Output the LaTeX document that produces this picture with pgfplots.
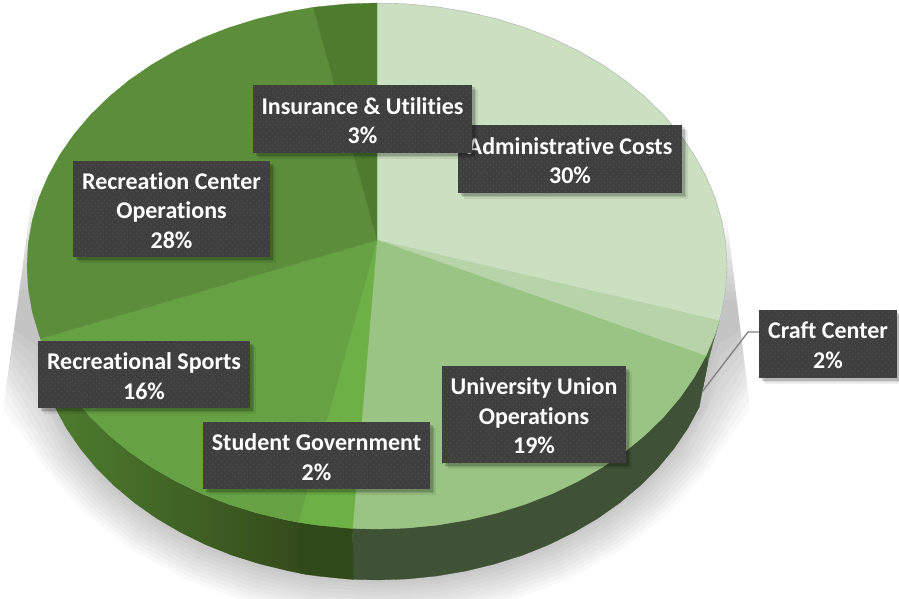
\documentclass[border=0pt]{standalone}
\usepackage{fontspec}
\setmainfont{Carlito}[RawFeature={-liga;-dlig;-clig}]
\usepackage{pgfplots}
\pgfplotsset{compat=1.18}
\usetikzlibrary{patterns.meta}

\definecolor{admin}{HTML}{CBDFC1}
\definecolor{craft}{HTML}{B7D4A8}
\definecolor{univ}{HTML}{9AC484}
\definecolor{stud}{HTML}{6DB045}
\definecolor{sports}{HTML}{66A144}
\definecolor{reccen}{HTML}{5C8D3A}
\definecolor{insur}{HTML}{4E7C2E}
\definecolor{wallcraft}{HTML}{4C6A3C}
\definecolor{walluniv}{HTML}{3F5235}
\definecolor{wallstud}{HTML}{2F4A18}
\definecolor{wallsportsl}{HTML}{4F7F2F}
\definecolor{wallsportsr}{HTML}{33491B}
\definecolor{boxc}{HTML}{3F3F40}
\definecolor{dotc}{HTML}{5A5A5B}

% label box: x0 y0 x1 y1 text
\newcommand{\lab}[5]{%
  \fill[black,opacity=.07,xshift=5.5pt,yshift=-5.5pt] (axis cs:#1,#2) rectangle (axis cs:#3,#4);
  \fill[black,opacity=.1,xshift=4pt,yshift=-4pt] (axis cs:#1,#2) rectangle (axis cs:#3,#4);
  \fill[black,opacity=.15,xshift=2.5pt,yshift=-2.5pt] (axis cs:#1,#2) rectangle (axis cs:#3,#4);
  \fill[boxc] (axis cs:#1,#2) rectangle (axis cs:#3,#4);
  \fill[pattern={Dots[radius=.55pt,distance=4pt,angle=45]},pattern color=dotc] (axis cs:#1,#2) rectangle (axis cs:#3,#4);
  \path (axis cs:#1,#2) -- (axis cs:#3,#4) node[midway,yshift=-1.5pt,text=white,align=center,inner sep=0pt,
    font=\fontsize{24}{29.5}\selectfont\bfseries] {#5};
}

\begin{document}
\begin{tikzpicture}
\begin{axis}[
    at={(0,0)}, anchor=south west,
    scale only axis,
    width=899pt, height=599pt,
    xmin=0, xmax=899, ymin=0, ymax=599,
    y dir=reverse,
    hide axis,
  ]

% soft shadow behind the pie
\pgfplotsset{shad/.style={draw=none,fill=black,fill opacity=.022}}
\addplot[shad] coordinates {(33,190)(3,410)(30,445)(45.3,468.5)(83.6,511.8)(130.8,549.1)(185.5,579.4)(246,601.7)(310.5,615.4)(377,620)(443.5,615.4)(508,601.7)(568.5,579.4)(623.2,549.1)(670.4,511.8)(708.7,468.5)(724,445)(750,410)(727,220)} -- cycle;
\addplot[shad] coordinates {(31.6,200)(4.4,400)(33.5,443)(48.8,466.5)(86.7,509.2)(133.4,546)(187.5,576)(247.4,598)(311.2,611.5)(377,616)(442.8,611.5)(506.6,598)(566.5,576)(620.6,546)(667.3,509.2)(705.2,466.5)(720.5,443)(749.6,400)(728,228)} -- cycle;
\addplot[shad] coordinates {(30.3,210)(5.8,390)(37.1,441.7)(52.2,464.5)(89.7,506.6)(135.9,543)(189.5,572.5)(248.7,594.2)(311.9,607.5)(377,612)(442.1,607.5)(505.3,594.2)(564.5,572.5)(618.1,543)(664.3,506.6)(701.8,464.5)(716.9,441.7)(747.6,390)(729,236)} -- cycle;
\addplot[shad] coordinates {(28.9,220)(6.8,382)(34.6,428)(55.7,462.5)(92.8,504)(138.5,540)(191.5,569)(250.1,590.5)(312.6,603.5)(377,608)(441.4,603.5)(503.9,590.5)(562.5,569)(615.5,540)(661.2,504)(698.3,462.5)(719.4,428)(747.2,382)(729.8,244)} -- cycle;
\addplot[shad] coordinates {(27.6,230)(7.8,375)(32.1,415.2)(59.2,460.5)(95.9,501.5)(141.1,536.8)(193.5,565.5)(251.5,586.7)(313.3,599.6)(377,604)(440.7,599.6)(502.5,586.7)(560.5,565.5)(612.9,536.8)(658.1,501.5)(694.8,460.5)(721.9,415.2)(745.8,375)(730.8,252)} -- cycle;
\addplot[shad] coordinates {(26.2,240)(8.9,367)(31.2,402)(62.6,458.5)(99,499)(143.7,533.8)(195.5,562)(252.9,583)(314,595.7)(377,600)(440,595.7)(501.1,583)(558.5,562)(610.3,533.8)(655,499)(691.4,458.5)(722.8,402)(745.1,367)(731.8,260)} -- cycle;
\addplot[shad] coordinates {(24.8,250)(9.9,360)(30.2,389.2)(66.1,456.5)(102,496.3)(146.2,530.7)(197.5,558.6)(254.2,579.2)(314.7,591.8)(377,596)(439.3,591.8)(499.8,579.2)(556.5,558.6)(607.8,530.7)(652,496.3)(687.9,456.5)(723.8,389.2)(743.9,360)(732.8,268)} -- cycle;
\addplot[shad] coordinates {(23.5,260)(10.9,352)(30.8,376.6)(69.5,454.5)(105,493.8)(148.8,527.6)(199.5,555.2)(255.6,575.5)(315.4,587.9)(377,592)(438.6,587.9)(498.4,575.5)(554.5,555.2)(605.2,527.6)(649,493.8)(684.5,454.5)(723.2,376.6)(743.1,352)(733.7,276)} -- cycle;
\addplot[shad] coordinates {(22.1,270)(11.9,345)(31.3,364.1)(47.2,409.7)(73,452.5)(108.1,491.2)(151.4,524.6)(201.5,551.7)(257,571.7)(316.1,583.9)(377,588)(437.9,583.9)(497,571.7)(552.5,551.7)(602.6,524.6)(645.9,491.2)(681,452.5)(706.8,409.7)(722.7,364.1)(742.1,345)(734.7,284)} -- cycle;
\addplot[shad] coordinates {(20.8,280)(13,337)(33.6,354.5)(50,409)(76,450)(110,488)(154,521)(203,548)(258,568)(316.5,580)(377,584)(437.5,580)(496,568)(551,548)(600,521)(644,488)(678,450)(704,409)(720.4,354.5)(741,337)(735.7,292)} -- cycle;
\addplot[shad] coordinates {(19.4,290)(14,330)(36,345)(60,420)(377,500)(694,420)(718,345)(740.3,330)(736.7,300)} -- cycle;

% side walls
\addplot[draw=wallcraft,fill=wallcraft,line width=.3pt] coordinates {(719.3,320.7)(715.1,334.1)(705.9,355.9)(702,392)(708,362)(713,343)} -- cycle;
\addplot[draw=walluniv,fill=walluniv,line width=.3pt] coordinates {(705.9,355.9)(694.2,377.1)(680.1,397.5)(663.7,416.9)(645.1,435.1)(624.5,452)(602,467.5)(577.8,481.4)(552,493.8)(524.9,504.4)(496.7,513.1)(467.6,520)(437.8,525)(407.5,528)(377,529)(352.6,528.4)
  (353.1,579.4)(377,580)(406.9,579)(436.5,576)(465.8,571)(494.3,564.1)(522,555.4)(548.5,544.8)(573.7,532.4)(597.5,518.5)(619.5,503)(639.7,486.1)(658,467.9)(674,448.5)(687.9,428.1)(699.3,406.9)(702,392)(708,362)} -- cycle;
\addplot[draw=none,left color=wallsportsl,right color=wallsportsr] coordinates {(310,524.5)(298.3,522.3)(286.4,520)(257.3,513.1)(229.1,504.4)(202,493.8)(176.2,481.4)(152,467.5)(129.5,452)(108.9,435.1)(90.3,416.9)(73.9,397.5)(59.8,377.1)(48.1,355.9)(40.5,338.5)
  (46,375)(54.7,406.9)(66.1,428.1)(80,448.5)(96,467.9)(114.3,486.1)(134.5,503)(156.5,518.5)(180.3,532.4)(205.5,544.8)(232,555.4)(259.7,564.1)(288.2,571)(299.8,573.3)(311,575.3)} -- cycle;
\addplot[draw=wallstud,fill=wallstud,line width=.3pt] coordinates {(352.6,528.4)(346.5,528)(316.2,525)(298.3,522.3)(299.8,573.3)(317.5,576)(347.1,579)(353.1,579.4)} -- cycle;

% top face
\addplot[draw=admin,fill=admin,line width=.3pt] coordinates {(377,240)(377,3)(407.5,4)(437.8,7)(467.6,12)(496.7,18.9)(524.9,27.6)(552,38.2)(577.8,50.6)(602,64.5)(624.5,80)(645.1,96.9)(663.7,115.1)(680.1,134.5)(694.2,154.9)(705.9,176.1)(715.1,197.9)(721.7,220.3)(725.7,243.1)(727,266)(725.7,288.9)(721.7,311.7)(719.3,320.7)} -- cycle;
\addplot[draw=craft,fill=craft,line width=.3pt] coordinates {(377,240)(719.3,320.7)(715.1,334.1)(705.9,355.9)} -- cycle;
\addplot[draw=univ,fill=univ,line width=.3pt] coordinates {(377,240)(705.9,355.9)(694.2,377.1)(680.1,397.5)(663.7,416.9)(645.1,435.1)(624.5,452)(602,467.5)(577.8,481.4)(552,493.8)(524.9,504.4)(496.7,513.1)(467.6,520)(437.8,525)(407.5,528)(377,529)(352.6,528.4)} -- cycle;
\addplot[draw=stud,fill=stud,line width=.3pt] coordinates {(377,240)(352.6,528.4)(346.5,528)(316.2,525)(298.3,522.3)} -- cycle;
\addplot[draw=sports,fill=sports,line width=.3pt] coordinates {(377,240)(298.3,522.3)(286.4,520)(257.3,513.1)(229.1,504.4)(202,493.8)(176.2,481.4)(152,467.5)(129.5,452)(108.9,435.1)(90.3,416.9)(73.9,397.5)(59.8,377.1)(48.1,355.9)(40.5,338.5)} -- cycle;
\addplot[draw=reccen,fill=reccen,line width=.3pt] coordinates {(377,240)(40.5,338.5)(38.9,334.1)(32.3,311.7)(28.3,288.9)(27,266)(28.3,243.1)(32.3,220.3)(38.9,197.9)(48.1,176.1)(59.8,154.9)(73.9,134.5)(90.3,115.1)(108.9,96.9)(129.5,80)(152,64.5)(176.2,50.6)(202,38.2)(229.1,27.6)(257.3,18.9)(286.4,12)(313.2,7.4)} -- cycle;
\addplot[draw=insur,fill=insur,line width=.3pt] coordinates {(377,240)(313.2,7.4)(316.2,7)(346.5,4)(377,3)} -- cycle;

% thin grey rim along the light slices
\addplot[draw=black!30,line width=.4pt] coordinates {(377,3)(407.5,4)(437.8,7)(467.6,12)(496.7,18.9)(524.9,27.6)(552,38.2)(577.8,50.6)(602,64.5)(624.5,80)(645.1,96.9)(663.7,115.1)(680.1,134.5)(694.2,154.9)(705.9,176.1)(715.1,197.9)(721.7,220.3)(725.7,243.1)(727,266)(725.7,288.9)(721.7,311.7)(719.3,320.7)};

% leader line
\addplot[draw=black!50,line width=1.3pt] coordinates {(702,392)(748,332)(760,332)};

% labels, Admin goes under Insurance
\lab{458}{125}{682}{193}{Administrative Costs\\30\%}
\lab{253}{85}{472}{153}{Insurance \& Utilities\\3\%}
\lab{73}{161}{270}{257}{Recreation Center\\Operations\\28\%}
\lab{38}{341}{250}{408}{Recreational Sports\\16\%}
\lab{203}{422}{430}{489}{Student Government\\2\%}
\lab{442}{366}{626}{463}{University Union\\Operations\\19\%}
\lab{759}{310}{897}{378}{Craft Center\\2\%}
\end{axis}
\pgfresetboundingbox
\path (0,0) rectangle (899pt,599pt);
\end{tikzpicture}
\end{document}
